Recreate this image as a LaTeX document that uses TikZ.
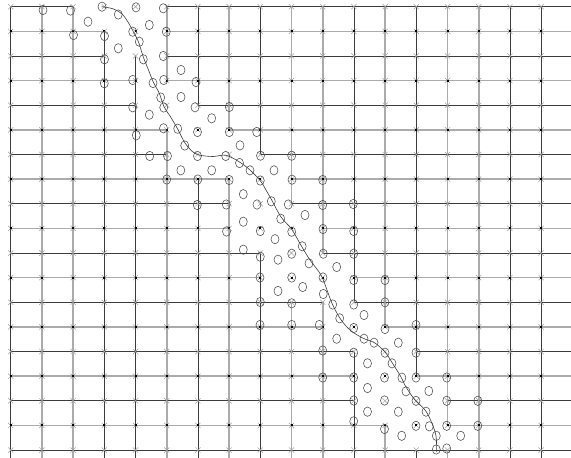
\documentclass[tikz,border=0pt]{standalone}
\definecolor{gline}{HTML}{ABABAB}
\definecolor{dline}{HTML}{3C3C3C}
\definecolor{mk}{HTML}{A0A0A0}
\definecolor{circ}{HTML}{4E4E4E}
\tikzset{
  gseg/.style={draw=gline, line width=1.6pt},
  dseg/.style={draw=dline, line width=0.7pt},
  crossmark/.style={draw=mk, line width=0.5pt},
  ring/.style={draw=circ, line width=0.55pt},
  crackline/.style={draw=dline, line width=0.6pt},
}
\newcommand{\gx}[1]{10.7+31.2*#1}
\newcommand{\gy}[1]{6.7+24.63*#1}
\begin{document}
\begin{tikzpicture}[x=1pt,y=-1pt]
\useasboundingbox (0,0) rectangle (571,458);
\clip (0,0) rectangle (571,458);
\fill[white] (0,0) rectangle (571,458);
% horizontal segments j/a/b
\foreach \j/\a/\b in {0/0/2,0/5/18,1/0/3,1/5/18,2/0/3,2/5/18,3/0/4,3/5/18,4/0/4,4/6/18,
  5/0/5,5/7/18,6/0/5,6/8/18,7/0/7,7/9/18,8/0/7,8/9/18,9/0/7,9/10/18,10/0/8,10/10/18,
  11/0/8,11/11/18,12/0/10,12/11/18,13/0/10,13/12/18,14/0/11,14/13/18,15/0/11,15/13/18,
  16/0/11,16/14/18,17/0/12,17/14/18,18/0/18}{
  \ifodd\j
    \draw[gseg] ({\gx{\a}},{\gy{\j}}) -- ({\gx{\b}},{\gy{\j}});
  \fi
}
% vertical segments i/a/b/style
\foreach \i/\a/\b/\s in {0/0/19/dseg,1/0/19/gseg,2/0/19/gseg,3/1/19/dseg,4/2/19/dseg,
  5/0/3/gseg,5/5/19/gseg,6/0/4/dseg,6/7/19/dseg,7/0/5/gseg,7/7/19/gseg,8/0/6/dseg,8/10/19/dseg,
  9/0/8/gseg,9/12/19/gseg,10/0/10/gseg,10/12/19/gseg,11/0/12/dseg,11/14/19/dseg,
  12/0/13/gseg,12/17/19/gseg,13/0/15/dseg,13/18/19/dseg,14/0/17/gseg,14/18/19/gseg,
  15/0/19/gseg,16/0/19/dseg,17/0/19/dseg}{
  \draw[\s] ({\gx{\i}},{\gy{\a}}) -- ({\gx{\i}},{\gy{\b}});
}
\foreach \j/\a/\b in {0/0/2,0/5/18,1/0/3,1/5/18,2/0/3,2/5/18,3/0/4,3/5/18,4/0/4,4/6/18,
  5/0/5,5/7/18,6/0/5,6/8/18,7/0/7,7/9/18,8/0/7,8/9/18,9/0/7,9/10/18,10/0/8,10/10/18,
  11/0/8,11/11/18,12/0/10,12/11/18,13/0/10,13/12/18,14/0/11,14/13/18,15/0/11,15/13/18,
  16/0/11,16/14/18,17/0/12,17/14/18,18/0/18}{
  \ifodd\j\else
    \draw[dseg] ({\gx{\a}},{\gy{\j}}) -- ({\gx{\b}},{\gy{\j}});
  \fi
}
% node markers
\foreach \i in {0,...,17}{
  \foreach \j in {0,...,18}{
    \draw[crossmark] ({\gx{\i}-2.6},{\gy{\j}-2.6}) -- ({\gx{\i}+2.6},{\gy{\j}+2.6})
                     ({\gx{\i}-2.6},{\gy{\j}+2.6}) -- ({\gx{\i}+2.6},{\gy{\j}-2.6});
    \ifodd\j
      \fill[black] ({\gx{\i}-1},{\gy{\j}-1}) rectangle ({\gx{\i}+1},{\gy{\j}+1});
    \fi
  }
}
% circles
\foreach \p in {(43,10),(70.5,10.5),(102,6.7),(118.3,14.5),(136,7.3),(163.3,8.3),
(88,21.7),(149.3,25),
(73.5,35),(104.5,36),(132.7,31.7),(166.3,31.7),
(139.3,41.7),(118.3,48.3),
(104.5,59.3),(143.3,59.3),(163.3,56),
(181,70),
(104.3,83.3),(132.7,80),(153,83),(163.7,80),(196,82),
(160.7,97.5),(181,97),
(132.7,107.3),(163.7,107.5),(195,107.3),(229.3,107),
(149.3,114.7),(211.7,118.3),
(136.3,135.3),(163.5,128.3),(177.7,128.7),(197.5,132),(229.3,132),(256.7,132),
(184.7,145.5),(240,145.3),
(149.7,156),(167.5,156),(197.5,156),(225.7,156),(260.5,155.7),(291.7,155.7),
(239.5,163),(250,170.3),(180.8,170.3),(211.7,170.3),(274,170.3),
(166.7,179.5),(197.8,179.5),(229.2,180),(260.3,180.5),(292,179.7),(322.7,180),
(243.3,194.2),
(197.3,205),(226.3,204.5),(257,204.5),(271.3,201.3),(288.3,204.5),(322.7,205),(353.3,204),
(305,215),(280.7,218.7),(243.3,221.7),
(226.5,231.5),(260.3,231),(291.7,231.7),(323,229),(353.7,231),
(275,239.2),(302.2,246.3),(243.3,249.7),
(260.3,256.7),(291.7,253.7),(323.3,253.7),(353.7,253.7),
(278,259.7),(309,263.3),(336.7,267),
(260,277.5),(291.7,277.5),(323,277.5),(353.7,280),(385,280),
(302.7,287),(278,291),(323.3,294),
(260.3,302),(291.7,303.3),(332.7,304.5),(353.7,304.5),(385,302.3),
(364,315),(339.7,318.3),
(260,325),(291.7,325),(319.3,325),(353.7,328),(385,329),(416,325),
(336.7,338.7),(364,338.7),(374,342.7),(398.3,342.7),
(322.7,350.5),(353.7,352.7),(385,352.7),(416,352.7),
(367.5,363.3),(392,363.3),
(322.7,377.5),(353.7,377.5),(384.5,377.5),(401.9,377.7),(416,377.5),(446.7,377.5),
(367.5,388),(406,391.3),(428.8,391),
(353.7,400.5),(384.5,400.5),(416,400.8),(446.7,400.8),(477.8,400.8),
(367.5,411.7),(398.3,411.7),(426,411.7),
(353.7,421.3),(384.5,429),(416,425.8),(429.3,426.3),(446.7,425.8),(477.8,425.8),
(401.7,435.8),(436.3,435.8),(460.7,435.8),
(436.3,449.5),(446.7,448.5)}{
  \draw[ring] \p ellipse [x radius=4, y radius=4.7];
}
% curve
\draw[crackline] plot[smooth, tension=0.55] coordinates {
(101.7,6.7) (113,8.8) (122,14) (128,22) (133,31) (138.5,42) (143.3,57) (148.5,70)
(153.3,82) (159.3,93.3) (164,106.7) (170,116) (177.3,128.3) (185,143) (193,152)
(200,155.2) (213,156.5) (226,155.3) (239.5,162) (250,170) (260.5,181) (266,190)
(271.7,200) (281,217) (291.5,229) (301.7,246.5) (310,260) (321,275) (327,290)
(332,303.3) (340,318.3) (350,330) (363.3,338.3) (374.5,342.7) (385,352) (392.5,363.3)
(401,377) (406,387) (415,400) (425.5,410.5) (432,423.5) (436,436) (436.7,452)};
\end{tikzpicture}
\end{document}
